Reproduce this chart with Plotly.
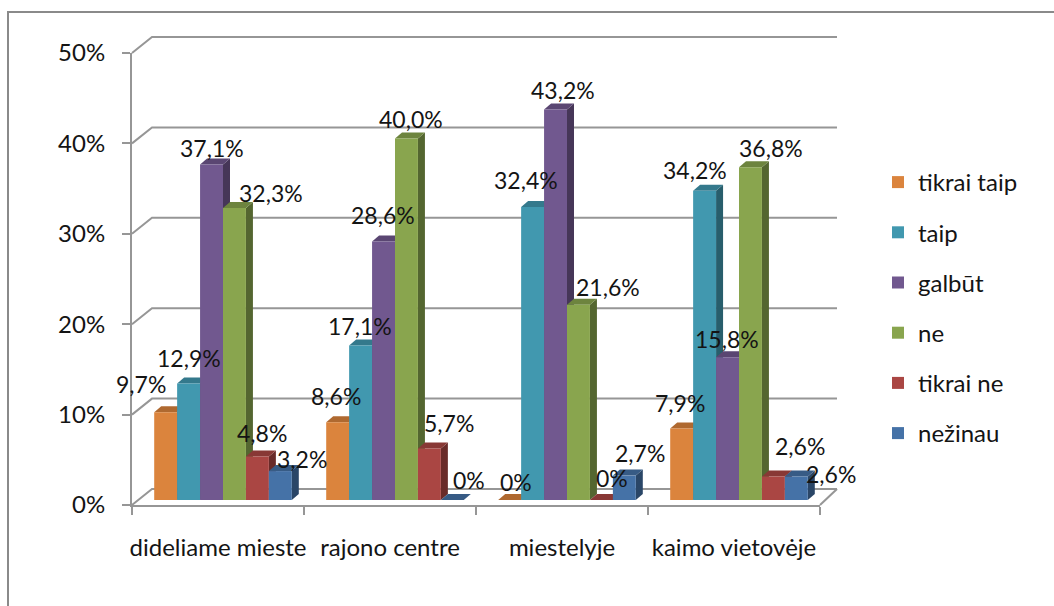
import plotly.graph_objects as go

# ---------------- data ----------------
categories = ["dideliame mieste", "rajono centre", "miestelyje", "kaimo vietovėje"]
series_names = ["tikrai taip", "taip", "galbūt", "ne", "tikrai ne", "nežinau"]
tikrai_taip = [9.7, 8.6, 0.0, 7.9]
taip = [12.9, 17.1, 32.4, 34.2]
galbut = [37.1, 28.6, 43.2, 15.8]
ne = [32.3, 40.0, 21.6, 36.8]
tikrai_ne = [4.8, 5.7, 0.0, 2.6]
nezinau = [3.2, 0.0, 2.7, 2.6]
y_ticks = [0, 10, 20, 30, 40, 50]
y_tick_labels = ["0%", "10%", "20%", "30%", "40%", "50%"]

series_values = [tikrai_taip, taip, galbut, ne, tikrai_ne, nezinau]

# ---------------- style ----------------
colors = ["#DB843D", "#4198AF", "#71588F", "#89A54E", "#AA4643", "#4572A7"]
FONT = "Lato, 'Open Sans', sans-serif"
TXT = "#141414"
GRID = "#969696"
FS = 24
FS_LABEL = 23

# label offsets (px) relative to the bar's front top centre: (right, up)
label_offsets = [
    [(-25, 28), (-2, 26), (6, 18), (-2, 26)],
    [(0, 25), (-1, 19), (-7, 27), (-10, 21)],
    [(0, 17), (-1, 26), (7, 19), (-1, 18)],
    [(37, 15), (5, 19), (30, 18), (21, 19)],
    [(5, 24), (20, 25), (11, 22), (27, 31)],
    [(22, 12), (17, 20), (16, 23), (35, 3)],
]

W, H = 1054, 606
PL, PR, PT, PB = 132, 820, 53, 505
YMAX = 50
px_cat = (PR - PL) / len(categories)
px_pct = (PB - PT) / YMAX
sx, sy = 5 / px_cat, 5 / px_pct          # bar plane shift vs. front axes
depth_x, depth_y = 7 / px_cat, 6 / px_pct  # 3-D depth of bars
bargap = 0.2
bw = (1 - bargap) / len(series_names)


def shade(hexcol, f):
    h = hexcol.lstrip("#")
    r, g, b = (int(h[i:i + 2], 16) for i in (0, 2, 4))
    return "rgb(%d,%d,%d)" % (r * f, g * f, b * f)


def px(xp):
    return (xp - PL) / (PR - PL)


def py(yp):
    return (PB - yp) / (PB - PT)


def fmt(v):
    return "0%" if v == 0 else ("%.1f" % v).replace(".", ",") + "%"


fig = go.Figure()
xs = list(range(len(categories)))
for i, (name, vals) in enumerate(zip(series_names, series_values)):
    fig.add_trace(go.Bar(
        x=xs, y=vals, name=name, legendgroup=name,
        marker=dict(color=colors[i], line=dict(width=0)),
        hoverinfo="skip",
    ))

shapes = []
# back wall gridlines + floor
for v in y_ticks:
    fy = PB - v * px_pct
    shapes.append(dict(
        type="path", xref="paper", yref="paper", layer="below",
        path="M %f,%f L %f,%f L %f,%f" % (px(PL), py(fy), px(PL + 20), py(fy - 16), px(837), py(fy - 16)),
        line=dict(color=GRID, width=2),
    ))
shapes.append(dict(
    type="path", xref="paper", yref="paper", layer="below",
    path="M %f,%f L %f,%f" % (px(837), py(PB - 16), px(PR), py(PB)),
    line=dict(color=GRID, width=2),
))

# 3-D faces of bars
annotations = []
for i, vals in enumerate(series_values):
    for c, v in enumerate(vals):
        xl = c - (1 - bargap) / 2 + i * bw
        xr = xl + bw
        shapes.append(dict(
            type="path", xref="x", yref="y", layer="below",
            path="M %f,%f L %f,%f L %f,%f L %f,%f Z" % (xr, 0, xr + depth_x, depth_y, xr + depth_x, v + depth_y, xr, v),
            fillcolor=shade(colors[i], 0.62), line=dict(width=0),
        ))
        shapes.append(dict(
            type="path", xref="x", yref="y", layer="below",
            path="M %f,%f L %f,%f L %f,%f L %f,%f Z" % (xl, v, xl + depth_x, v + depth_y, xr + depth_x, v + depth_y, xr, v),
            fillcolor=shade(colors[i], 0.8), line=dict(width=0),
        ))
        dx, dy = label_offsets[i][c]
        annotations.append(dict(
            x=(xl + xr) / 2, y=v, xref="x", yref="y", text=fmt(v),
            showarrow=False, xanchor="center", yanchor="middle",
            xshift=dx, yshift=dy, font=dict(family=FONT, size=FS_LABEL, color=TXT),
        ))

# outer chart border
shapes.append(dict(
    type="rect", xref="paper", yref="paper", layer="below",
    x0=px(8), x1=px(1062), y0=py(620), y1=py(12),
    line=dict(color="#8a8a8a", width=2),
))

fig.update_layout(
    width=W, height=H,
    margin=dict(l=PL, r=W - PR, t=PT, b=H - PB, pad=0),
    paper_bgcolor="white", plot_bgcolor="white",
    barmode="group", bargap=bargap, bargroupgap=0,
    font=dict(family=FONT, size=FS, color=TXT),
    shapes=shapes, annotations=annotations,
    showlegend=True,
    legend=dict(
        x=px(878), y=py(160), xanchor="left", yanchor="top",
        font=dict(family=FONT, size=FS, color=TXT),
        tracegroupgap=16, bgcolor="rgba(0,0,0,0)",
    ),
    xaxis=dict(
        range=[-0.5 - sx, len(categories) - 0.5 - sx],
        tickmode="array", tickvals=[c - sx for c in xs], ticktext=categories,
        ticks="", showline=True, linecolor=GRID, linewidth=2,
        showgrid=False, zeroline=False, ticklabelstandoff=20,
        tickfont=dict(family=FONT, size=FS, color=TXT),
        minor=dict(tickmode="array", tickvals=[c - 0.5 - sx for c in range(len(categories) + 1)],
                   ticks="outside", ticklen=8, tickwidth=2, tickcolor=GRID, showgrid=False),
        fixedrange=True,
    ),
    yaxis=dict(
        range=[-sy, YMAX - sy],
        tickmode="array", tickvals=[v - sy for v in y_ticks], ticktext=y_tick_labels,
        ticks="outside", ticklen=8, tickwidth=2, tickcolor=GRID,
        showline=True, linecolor=GRID, linewidth=2,
        showgrid=False, zeroline=False, ticklabelstandoff=12,
        tickfont=dict(family=FONT, size=FS, color=TXT),
        fixedrange=True,
    ),
)

fig.write_html("out.html", config={"displayModeBar": False},
               post_script="document.body.style.margin='0px';")
